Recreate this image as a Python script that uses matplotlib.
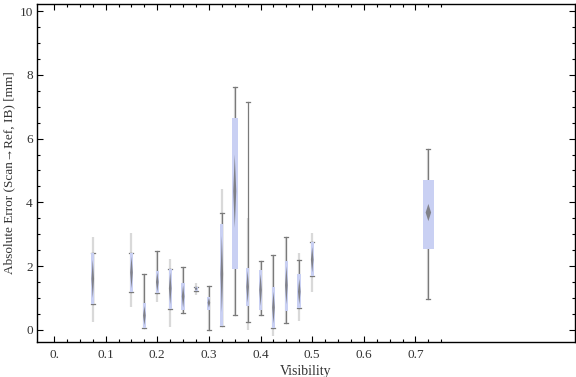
import matplotlib
matplotlib.use('Agg')
import matplotlib.pyplot as plt
from matplotlib.patches import Rectangle, Polygon
import numpy as np

# ── Data ─────────────────────────────────────────────────────
visibility = [0.075, 0.15, 0.175, 0.2, 0.225, 0.25, 0.275, 0.3, 0.325,
              0.35, 0.375, 0.4, 0.425, 0.45, 0.475, 0.5, 0.725]
q1       = [0.82, 1.19, 0.06, 1.16, 0.66, 0.63, 1.22, 0.63, 0.13,
            1.91, 0.75, 0.63, 0.06, 0.60, 0.69, 1.69, 2.54]
q3       = [2.41, 2.41, 0.85, 1.85, 1.91, 1.47, 1.35, 1.03, 3.32,
            6.65, 1.94, 1.88, 1.35, 2.16, 1.76, 2.76, 4.70]
wlo      = [0.82, 1.19, 0.06, 1.16, 0.66, 0.53, 1.22, 0.00, 0.13,
            0.47, 0.25, 0.47, 0.06, 0.22, 0.69, 1.69, 0.97]
whi      = [2.41, 2.41, 1.76, 2.48, 1.91, 1.98, 1.35, 1.38, 3.67,
            7.62, 7.15, 2.16, 2.35, 2.90, 2.19, 2.76, 5.67]
faint_lo = [0.25, 0.72, 0.06, 0.88, 0.09, 0.53, 1.10, 0.00, 0.13,
            0.47, 0.00, 0.47, -0.2, 0.22, 0.28, 1.19, 0.97]
faint_hi = [2.90, 3.04, 1.76, 2.48, 2.23, 1.98, 1.47, 1.38, 4.42,
            7.62, 3.50, 2.16, 2.35, 2.90, 2.41, 3.04, 5.67]
center   = [1.60, 1.80, 0.45, 1.50, 1.30, 1.05, 1.29, 0.85, 1.75,
            4.35, 1.35, 1.25, 0.70, 1.40, 1.20, 2.20, 3.68]
center_h = [0.60, 0.50, 0.30, 0.30, 0.50, 0.35, 0.06, 0.15, 1.20,
            1.15, 0.50, 0.50, 0.50, 0.60, 0.40, 0.40, 0.27]
box_px   = [3, 3, 3, 3, 3, 4, 3, 3, 3, 6, 3, 3, 3, 3, 4, 3, 11]

# ── Style ────────────────────────────────────────────────────
BOX_C   = '#c9d0f3'
WHISK_C = '#7a7a7a'
MED_C   = '#6e6e6e'
FAINT_C = '#d9d9d9'
PX      = 1 / 516.4          # one pixel in x-data units
CAP_PX  = 4

plt.rcParams['font.family'] = ['Liberation Serif', 'DejaVu Serif']

fig = plt.figure(figsize=(5.76, 3.77), dpi=100)
ax = fig.add_axes([37/576, 35/377, 538/576, 338/377])

for i, v in enumerate(visibility):
    hw = box_px[i] * PX / 2
    cw = CAP_PX * PX / 2
    ax.plot([v, v], [faint_lo[i], faint_hi[i]], color=FAINT_C, lw=1.6,
            solid_capstyle='butt', zorder=1)
    ax.plot([v, v], [wlo[i], whi[i]], color=WHISK_C, lw=0.9, zorder=2)
    ax.plot([v - cw, v + cw], [whi[i], whi[i]], color=WHISK_C, lw=0.9, zorder=2)
    ax.plot([v - cw, v + cw], [wlo[i], wlo[i]], color=WHISK_C, lw=0.9, zorder=2)
    ax.add_patch(Rectangle((v - hw, q1[i]), 2 * hw, q3[i] - q1[i],
                           facecolor=BOX_C, edgecolor='none', zorder=3))
    dw = max(hw * 0.5, 1.3 * PX)
    c, h = center[i], center_h[i]
    ax.add_patch(Polygon([[v, c + h], [v + dw, c], [v, c - h], [v - dw, c]],
                         closed=True, facecolor=MED_C, edgecolor='none',
                         alpha=0.8, zorder=4))

ax.set_xlim(-0.033, 1.009)
ax.set_ylim(-0.38, 10.22)

ax.set_xticks([0, 0.1, 0.2, 0.3, 0.4, 0.5, 0.6, 0.7])
ax.set_xticklabels(['0.', '0.1', '0.2', '0.3', '0.4', '0.5', '0.6', '0.7'])
ax.set_xticks(np.arange(0.025, 0.76, 0.025), minor=True)
ax.set_yticks([0, 2, 4, 6, 8, 10])
ax.set_yticks(np.arange(0.5, 10.0, 0.5), minor=True)

ax.tick_params(which='both', direction='in', top=True, right=True,
               labelsize=9.5, colors='black', labelcolor='#333333', width=0.8)
ax.tick_params(which='major', length=4)
ax.tick_params(which='minor', length=2.5)
ax.tick_params(axis='x', pad=5)
ax.tick_params(axis='y', pad=3)
for s in ax.spines.values():
    s.set_linewidth(1.0)

ax.set_xlabel('Visibility', fontsize=10, color='#333333', labelpad=3)
ax.set_ylabel('Absolute Error (Scan\u2192Ref, IB) [mm]', fontsize=9.5,
              color='#333333', labelpad=3)

fig.savefig('out.png', dpi=100)
